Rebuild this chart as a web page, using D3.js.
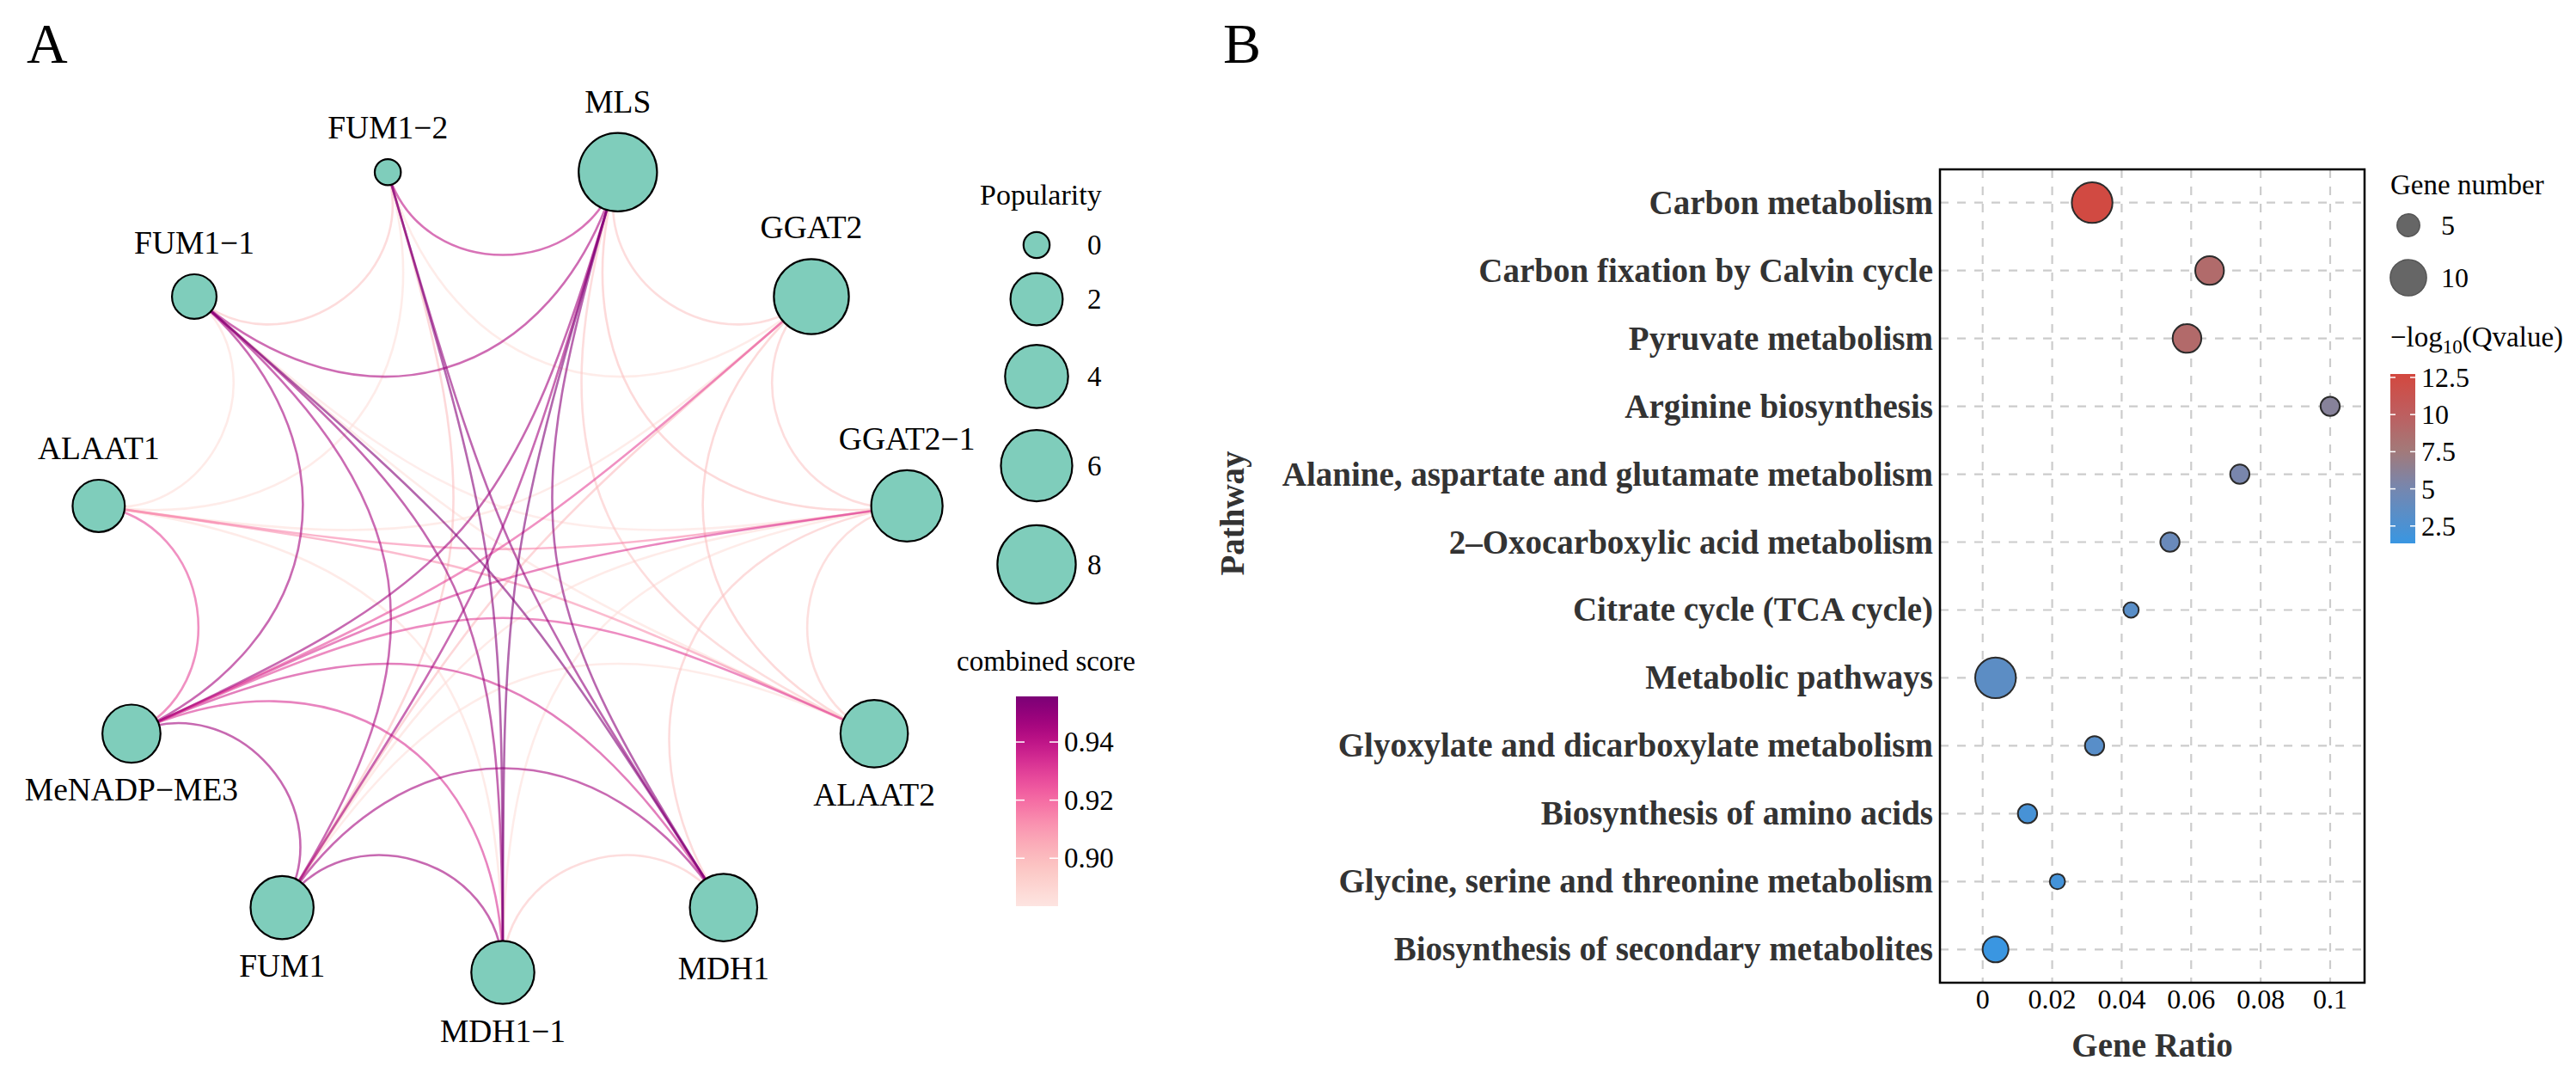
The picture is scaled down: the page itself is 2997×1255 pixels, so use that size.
<!DOCTYPE html>
<html>
<head>
<meta charset="utf-8">
<script src="https://cdn.jsdelivr.net/npm/d3@7"></script>
<style>
  body { margin: 0; background: #fff; }
  svg text { font-family: "Liberation Serif", "Times New Roman", serif; }
</style>
</head>
<body>
<svg id="chart" width="2997" height="1255"></svg>
<script>
// ---------- panel A: gene network ----------
// nodes in ring order, starting at the bottom and going clockwise
var geneNodes = ["MDH1\u22121", "FUM1", "MeNADP\u2212ME3", "ALAAT1", "FUM1\u22121", "FUM1\u22122",
                 "MLS", "GGAT2", "GGAT2\u22121", "ALAAT2", "MDH1"];
var popularity = [4, 4, 3, 2, 1, 0, 8, 7, 6, 5, 5];

var edgeFrom = ["MLS", "MLS", "FUM1\u22122", "FUM1\u22122", "FUM1\u22121", "FUM1\u22121", "MLS", "MLS",
  "FUM1\u22122", "FUM1\u22121", "FUM1\u22121", "MeNADP\u2212ME3", "FUM1", "FUM1", "FUM1\u22121",
  "MeNADP\u2212ME3", "MeNADP\u2212ME3", "MeNADP\u2212ME3", "MeNADP\u2212ME3", "MeNADP\u2212ME3", "MeNADP\u2212ME3",
  "ALAAT1", "ALAAT1", "FUM1\u22121", "MLS", "MLS", "MLS", "GGAT2", "GGAT2", "GGAT2\u22121", "GGAT2\u22121",
  "MDH1\u22121", "FUM1", "FUM1", "FUM1\u22122", "FUM1\u22122", "ALAAT1", "ALAAT1", "FUM1\u22121", "FUM1\u22121",
  "FUM1", "MDH1\u22121", "MDH1\u22121", "FUM1"];
var edgeTo = ["MDH1\u22121", "MDH1", "MDH1\u22121", "MDH1", "MDH1", "MDH1\u22121", "MeNADP\u2212ME3", "FUM1",
  "MLS", "MLS", "MeNADP\u2212ME3", "FUM1", "MDH1\u22121", "MDH1", "FUM1",
  "MDH1", "MDH1\u22121", "ALAAT2", "GGAT2\u22121", "GGAT2", "ALAAT1",
  "GGAT2\u22121", "ALAAT2", "FUM1\u22122", "GGAT2", "GGAT2\u22121", "ALAAT2", "GGAT2\u22121", "ALAAT2", "ALAAT2", "MDH1",
  "MDH1", "FUM1\u22122", "GGAT2", "GGAT2", "ALAAT1", "FUM1\u22121", "GGAT2", "GGAT2\u22121", "ALAAT2",
  "ALAAT2", "ALAAT1", "GGAT2\u22121", "GGAT2\u22121"];
var edgeScore = [0.955, 0.952, 0.953, 0.950, 0.954, 0.948, 0.947, 0.946,
  0.940, 0.944, 0.946, 0.947, 0.947, 0.946, 0.945,
  0.935, 0.933, 0.930, 0.932, 0.928, 0.928,
  0.915, 0.912, 0.897, 0.896, 0.898, 0.896, 0.896, 0.898, 0.895, 0.897,
  0.896, 0.899, 0.900, 0.886, 0.886, 0.887, 0.886, 0.885, 0.886,
  0.886, 0.887, 0.886, 0.887];

var popularityTicks = [0, 2, 4, 6, 8];
var scoreTicks = [0.90, 0.92, 0.94];

// ---------- panel B: KEGG enrichment ----------
var pathways = ["Carbon metabolism", "Carbon fixation by Calvin cycle", "Pyruvate metabolism",
  "Arginine biosynthesis", "Alanine, aspartate and glutamate metabolism", "2\u2013Oxocarboxylic acid metabolism",
  "Citrate cycle (TCA cycle)", "Metabolic pathways", "Glyoxylate and dicarboxylate metabolism",
  "Biosynthesis of amino acids", "Glycine, serine and threonine metabolism", "Biosynthesis of secondary metabolites"];
var geneRatio = [0.0315, 0.0653, 0.0588, 0.1, 0.074, 0.0539, 0.0427, 0.0037, 0.0322, 0.0129, 0.0215, 0.0037];
var geneNumber = [12, 7, 7, 4, 4, 4, 3, 12, 4, 4, 3, 6];
var negLogQ = [12.5, 8.9, 9.0, 6.0, 5.2, 4.3, 3.3, 3.5, 3.2, 2.2, 2.0, 1.4];
var ratioTicks = [0, 0.02, 0.04, 0.06, 0.08, 0.1];
var qTicks = [2.5, 5, 7.5, 10, 12.5];
var geneNumberTicks = [5, 10];

var svg = d3.select("#chart");

// panel letters
svg.append("text").attr("x", 31).attr("y", 73).attr("font-size", 66).text("A");
svg.append("text").attr("x", 1423).attr("y", 73).attr("font-size", 66).text("B");

// ===== panel A =====
var cx = 585, cy = 656, ringR = 475;
var angle = d3.scaleLinear().domain([0, geneNodes.length]).range([0, 2 * Math.PI]);
var nodeR = d3.scaleSqrt().domain([0, 8]).range([15.2, 45.6]);
var scoreColor = d3.scaleSequential(function(t) { return d3.interpolateRdPu(0.1 + 0.775 * t); })
    .domain([0.8835, 0.9557]);

var nodes = geneNodes.map(function(name, i) {
  var a = angle(i);
  return {name: name, pop: popularity[i], a: a,
          x: cx - ringR * Math.sin(a), y: cy + ringR * Math.cos(a)};
});
var byName = {};
nodes.forEach(function(n) { byName[n.name] = n; });

var edges = edgeFrom.map(function(f, i) {
  return {s: byName[f], t: byName[edgeTo[i]], score: edgeScore[i]};
}).sort(function(a, b) { return a.score - b.score; });

// curved edge: leaves each node towards the ring centre, bending more for close neighbours
function edgePath(e) {
  var d = Math.abs(e.s.a - e.t.a);
  if (d > Math.PI) d = 2 * Math.PI - d;
  var k = Math.sin(d / 2);
  var p = d3.path();
  p.moveTo(e.s.x, e.s.y);
  p.bezierCurveTo(e.s.x + k * (cx - e.s.x), e.s.y + k * (cy - e.s.y),
                  e.t.x + k * (cx - e.t.x), e.t.y + k * (cy - e.t.y),
                  e.t.x, e.t.y);
  return p.toString();
}

var netA = svg.append("g");
netA.selectAll("path.edge")
  .data(edges)
  .enter()
  .append("path")
  .attr("class", "edge")
  .attr("d", edgePath)
  .attr("fill", "none")
  .attr("stroke", function(d) { return scoreColor(d.score); })
  .attr("stroke-opacity", 0.6)
  .attr("stroke-width", 2.6);

netA.selectAll("circle.node")
  .data(nodes)
  .enter()
  .append("circle")
  .attr("class", "node")
  .attr("cx", function(d) { return d.x; })
  .attr("cy", function(d) { return d.y; })
  .attr("r", function(d) { return nodeR(d.pop); })
  .attr("fill", "#7fcdbb")
  .attr("stroke", "#000")
  .attr("stroke-width", 2.2);

netA.selectAll("text.label")
  .data(nodes)
  .enter()
  .append("text")
  .attr("class", "label")
  .attr("x", function(d) { return d.x; })
  .attr("y", function(d) {
    return d.y < cy ? d.y - nodeR(d.pop) - 24 : d.y + nodeR(d.pop) + 44;
  })
  .attr("text-anchor", "middle")
  .attr("font-size", 37.5)
  .text(function(d) { return d.name; });

// popularity legend
var legA = svg.append("g");
legA.append("text").attr("x", 1140).attr("y", 238).attr("font-size", 34).text("Popularity");
var keyY = [];
popularityTicks.forEach(function(v, i) {
  var h = 2.5 * nodeR(v) + 6;
  if (i === 0) keyY.push(285);
  else keyY.push(keyY[i - 1] + (2.5 * nodeR(popularityTicks[i - 1]) + 6 + h) / 2);
});
legA.selectAll("circle")
  .data(popularityTicks)
  .enter()
  .append("circle")
  .attr("cx", 1206)
  .attr("cy", function(d, i) { return keyY[i]; })
  .attr("r", function(d) { return nodeR(d); })
  .attr("fill", "#7fcdbb")
  .attr("stroke", "#000")
  .attr("stroke-width", 2.2);
legA.selectAll("text.key")
  .data(popularityTicks)
  .enter()
  .append("text")
  .attr("class", "key")
  .attr("x", 1265)
  .attr("y", function(d, i) { return keyY[i] + 11; })
  .attr("font-size", 33)
  .text(function(d) { return d; });

// combined score colour bar
legA.append("text").attr("x", 1113).attr("y", 780).attr("font-size", 33).text("combined score");
var barA = d3.scaleLinear().domain(scoreColor.domain()).range([1054, 810]);
var gradA = svg.append("defs").append("linearGradient")
  .attr("id", "gradA").attr("x1", 0).attr("y1", 1).attr("x2", 0).attr("y2", 0);
d3.range(0, 1.0001, 0.05).forEach(function(t) {
  gradA.append("stop").attr("offset", t)
    .attr("stop-color", scoreColor(scoreColor.domain()[0] + t * (scoreColor.domain()[1] - scoreColor.domain()[0])));
});
legA.append("rect").attr("x", 1182).attr("y", 810).attr("width", 49).attr("height", 244)
  .attr("fill", "url(#gradA)");
scoreTicks.forEach(function(v) {
  legA.append("line").attr("x1", 1182).attr("x2", 1192).attr("y1", barA(v)).attr("y2", barA(v))
    .attr("stroke", "#fff").attr("stroke-width", 1.5);
  legA.append("line").attr("x1", 1221).attr("x2", 1231).attr("y1", barA(v)).attr("y2", barA(v))
    .attr("stroke", "#fff").attr("stroke-width", 1.5);
  legA.append("text").attr("x", 1238).attr("y", barA(v) + 11).attr("font-size", 33)
    .text(d3.format(".2f")(v));
});

// ===== panel B =====
var x = d3.scaleLinear().domain([-0.0123, 0.1099]).range([2257, 2751]);
var y = d3.scalePoint().domain(pathways).range([197, 1143]).padding(0.49);
var size = d3.scaleSqrt().domain([5, 10]).range([13.2, 21.1]);
var qColor = d3.scaleLinear().domain([1.33, 5, 7.5, 10, 12.73])
  .range(["#3996e2", "#7587b0", "#a27a7a", "#bd5f60", "#d3483f"]);

var plotB = svg.append("g");

// dashed grid
plotB.selectAll("line.vgrid")
  .data(ratioTicks)
  .enter()
  .append("line")
  .attr("x1", function(d) { return x(d); })
  .attr("x2", function(d) { return x(d); })
  .attr("y1", 197).attr("y2", 1143)
  .attr("stroke", "#cccccc").attr("stroke-width", 2.2).attr("stroke-dasharray", "10,10");
plotB.selectAll("line.hgrid")
  .data(pathways)
  .enter()
  .append("line")
  .attr("x1", 2257).attr("x2", 2751)
  .attr("y1", function(d) { return y(d); })
  .attr("y2", function(d) { return y(d); })
  .attr("stroke", "#cccccc").attr("stroke-width", 2.2).attr("stroke-dasharray", "10,10");

// bubbles
plotB.selectAll("circle.dot")
  .data(pathways)
  .enter()
  .append("circle")
  .attr("class", "dot")
  .attr("cx", function(d, i) { return x(geneRatio[i]); })
  .attr("cy", function(d) { return y(d); })
  .attr("r", function(d, i) { return size(geneNumber[i]); })
  .attr("fill", function(d, i) { return qColor(negLogQ[i]); })
  .attr("stroke", "#2b2b2b")
  .attr("stroke-width", 2);

plotB.append("rect").attr("x", 2257).attr("y", 197).attr("width", 494).attr("height", 946)
  .attr("fill", "none").attr("stroke", "#000").attr("stroke-width", 2.5);

// axes text
plotB.selectAll("text.ylab")
  .data(pathways)
  .enter()
  .append("text")
  .attr("class", "ylab")
  .attr("x", 2249)
  .attr("y", function(d) { return y(d) + 13; })
  .attr("text-anchor", "end")
  .attr("font-size", 39)
  .attr("font-weight", "bold")
  .attr("fill", "#333")
  .text(function(d) { return d; });

plotB.selectAll("text.xlab")
  .data(ratioTicks)
  .enter()
  .append("text")
  .attr("class", "xlab")
  .attr("x", function(d) { return x(d); })
  .attr("y", 1173)
  .attr("text-anchor", "middle")
  .attr("font-size", 32)
  .text(function(d) { return d3.format("~g")(d); });

plotB.append("text").attr("x", 2504).attr("y", 1229).attr("text-anchor", "middle")
  .attr("font-size", 39).attr("font-weight", "bold").attr("fill", "#333").text("Gene Ratio");
plotB.append("text").attr("transform", "translate(1447,597) rotate(-90)").attr("text-anchor", "middle")
  .attr("font-size", 39).attr("font-weight", "bold").attr("fill", "#333").text("Pathway");

// gene number legend
var legB = svg.append("g");
legB.append("text").attr("x", 2781).attr("y", 226).attr("font-size", 33).text("Gene number");
var keyB = d3.scalePoint().domain(geneNumberTicks).range([262, 323]);
geneNumberTicks.forEach(function(v) {
  legB.append("circle").attr("cx", 2802).attr("cy", keyB(v)).attr("r", size(v))
    .attr("fill", "#666").attr("stroke", "#555").attr("stroke-width", 1.5);
  legB.append("text").attr("x", 2840).attr("y", keyB(v) + 11).attr("font-size", 32).text(v);
});

// -log10(Qvalue) colour bar
var qt = legB.append("text").attr("x", 2781).attr("y", 403).attr("font-size", 33);
qt.append("tspan").text("\u2212log");
qt.append("tspan").attr("font-size", 23).attr("dy", 8).text("10");
qt.append("tspan").attr("dy", -8).text("(Qvalue)");

var barB = d3.scaleLinear().domain([1.33, 12.73]).range([632, 435]);
var gradB = svg.select("defs").append("linearGradient")
  .attr("id", "gradB").attr("x1", 0).attr("y1", 1).attr("x2", 0).attr("y2", 0);
d3.range(0, 1.0001, 0.05).forEach(function(t) {
  gradB.append("stop").attr("offset", t)
    .attr("stop-color", qColor(barB.invert(632 - t * 197)));
});
legB.append("rect").attr("x", 2781).attr("y", 435).attr("width", 29).attr("height", 197)
  .attr("fill", "url(#gradB)");
qTicks.forEach(function(v) {
  legB.append("line").attr("x1", 2781).attr("x2", 2787).attr("y1", barB(v)).attr("y2", barB(v))
    .attr("stroke", "#fff").attr("stroke-width", 1.5);
  legB.append("line").attr("x1", 2804).attr("x2", 2810).attr("y1", barB(v)).attr("y2", barB(v))
    .attr("stroke", "#fff").attr("stroke-width", 1.5);
  legB.append("text").attr("x", 2817).attr("y", barB(v) + 11).attr("font-size", 32)
    .text(d3.format("~g")(v));
});
</script>
</body>
</html>
